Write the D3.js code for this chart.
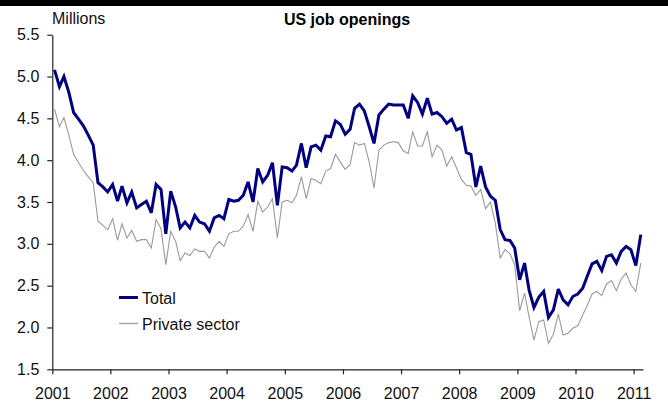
<!DOCTYPE html>
<html>
<head>
<meta charset="utf-8">
<script src="https://cdn.jsdelivr.net/npm/d3@7"></script>
<style>
  html, body { margin: 0; padding: 0; background: #fff; }
  svg { display: block; font-family: "Liberation Sans", Arial, sans-serif; }
</style>
</head>
<body>
<svg id="chart" width="668" height="406"></svg>
<script>
// Monthly job openings, millions, January 2001 – February 2011
const startYear = 2001;
const total = [
  5.08, 4.88, 5.00, 4.81, 4.57, 4.49, 4.41, 4.30, 4.18, 3.73, 3.68, 3.62,
  3.71, 3.51, 3.69, 3.49, 3.62, 3.43, 3.47, 3.51, 3.37, 3.71, 3.65, 3.12,
  3.63, 3.44, 3.19, 3.26, 3.19, 3.34, 3.26, 3.24, 3.15, 3.31, 3.34, 3.30,
  3.53, 3.51, 3.52, 3.58, 3.74, 3.50, 3.90, 3.74, 3.82, 3.97, 3.46, 3.92,
  3.91, 3.87, 3.94, 4.20, 3.91, 4.16, 4.18, 4.12, 4.29, 4.28, 4.47, 4.43,
  4.31, 4.37, 4.62, 4.67, 4.59, 4.40, 4.20, 4.54, 4.61, 4.67, 4.66, 4.66,
  4.66, 4.50, 4.77, 4.69, 4.55, 4.74, 4.55, 4.57, 4.52, 4.44, 4.49, 4.36,
  4.39, 4.09, 4.07, 3.68, 3.93, 3.68, 3.57, 3.52, 3.17, 3.05, 3.04, 2.95,
  2.57, 2.77, 2.45, 2.24, 2.36, 2.43, 2.12, 2.21, 2.46, 2.33, 2.27, 2.37,
  2.40, 2.47, 2.61, 2.76, 2.79, 2.68, 2.85, 2.87, 2.77, 2.91, 2.97, 2.93,
  2.74, 3.11
];
const privateSector = [
  4.61, 4.40, 4.51, 4.30, 4.07, 3.97, 3.88, 3.80, 3.73, 3.27, 3.22, 3.17,
  3.30, 3.04, 3.24, 3.07, 3.16, 3.03, 3.05, 3.05, 2.95, 3.29, 3.18, 2.75,
  3.15, 3.03, 2.80, 2.89, 2.86, 2.94, 2.91, 2.91, 2.83, 2.96, 3.03, 2.97,
  3.12, 3.15, 3.15, 3.21, 3.35, 3.15, 3.51, 3.38, 3.44, 3.54, 3.07, 3.50,
  3.52, 3.49, 3.58, 3.80, 3.54, 3.78, 3.76, 3.72, 3.87, 3.90, 4.07, 3.98,
  3.89, 3.95, 4.21, 4.18, 4.20, 3.98, 3.67, 4.12, 4.18, 4.21, 4.22, 4.21,
  4.11, 4.08, 4.34, 4.17, 4.17, 4.34, 4.04, 4.18, 4.12, 3.93, 4.04, 3.91,
  3.77, 3.70, 3.69, 3.58, 3.65, 3.42, 3.50, 3.25, 2.83, 2.93, 2.88, 2.75,
  2.20, 2.41, 2.13, 1.85, 2.07, 2.09, 1.81, 1.92, 2.16, 1.91, 1.93, 1.99,
  2.02, 2.15, 2.26, 2.40, 2.43, 2.38, 2.52, 2.56, 2.44, 2.58, 2.65, 2.51,
  2.43, 2.77
];
const yearTicks = ["2001", "2002", "2003", "2004", "2005", "2006", "2007", "2008", "2009", "2010", "2011"];
const valueTicks = [1.5, 2.0, 2.5, 3.0, 3.5, 4.0, 4.5, 5.0, 5.5];
const seriesNames = ["Total", "Private sector"];

const svg = d3.select("#chart");
const W = 668;
const plotLeft = 52.3, plotRight = 643, plotTop = 34.7, plotBottom = 369.3;

// points sit in the middle of each month
const dateOf = i => new Date(startYear, i, 15);

const x = d3.scaleTime()
  .domain([new Date(startYear, 0, 1), new Date(2011, 2, 1)])
  .range([plotLeft, plotRight]);
const y = d3.scaleLinear()
  .domain([d3.min(valueTicks), d3.max(valueTicks)])
  .range([plotBottom, plotTop]);

// black band along the top edge
svg.append("rect").attr("x", 0).attr("y", 0).attr("width", W).attr("height", 6).attr("fill", "#000");

// axes
const xAxis = d3.axisBottom(x)
  .tickValues(yearTicks.map(t => new Date(+t, 0, 1)))
  .tickFormat((d, i) => yearTicks[i])
  .tickSize(5).tickSizeOuter(0).tickPadding(13);
const gx = svg.append("g").attr("transform", `translate(0,${plotBottom})`).call(xAxis);

const yAxis = d3.axisLeft(y)
  .tickValues(valueTicks)
  .tickFormat(d3.format(".1f"))
  .tickSize(5).tickSizeOuter(0).tickPadding(8);
const gy = svg.append("g").attr("transform", `translate(${plotLeft},0)`).call(yAxis);

[gx, gy].forEach(g => {
  g.selectAll("path.domain").attr("stroke", "#222").attr("stroke-width", 1.2);
  g.selectAll(".tick line").attr("stroke", "#222").attr("stroke-width", 1.2);
  g.selectAll(".tick text").attr("font-size", 16).attr("fill", "#111")
    .style("font-family", "'Liberation Sans', Arial, sans-serif");
});

// series
const line = d3.line()
  .x((d, i) => x(dateOf(i)))
  .y(d => y(d));

svg.append("path").datum(privateSector)
  .attr("fill", "none").attr("stroke", "#9a9a9a").attr("stroke-width", 1.1)
  .attr("stroke-linejoin", "miter").attr("d", line);

svg.append("path").datum(total)
  .attr("fill", "none").attr("stroke", "#000080").attr("stroke-width", 3)
  .attr("stroke-linejoin", "miter").attr("stroke-miterlimit", 3).attr("d", line);

// titles
svg.append("text").attr("x", 52).attr("y", 24)
  .attr("font-size", 16).attr("fill", "#111").text("Millions");
svg.append("text").attr("x", 347).attr("y", 25)
  .attr("text-anchor", "middle").attr("font-size", 16).attr("font-weight", "bold")
  .attr("fill", "#000").text("US job openings");

// legend
const legend = [
  { name: seriesNames[0], color: "#000080", width: 3, y: 297.5 },
  { name: seriesNames[1], color: "#a8a8a8", width: 1.5, y: 323.5 }
];
const lg = svg.append("g");
legend.forEach(item => {
  lg.append("line").attr("x1", 119).attr("x2", 138)
    .attr("y1", item.y).attr("y2", item.y)
    .attr("stroke", item.color).attr("stroke-width", item.width);
  lg.append("text").attr("x", 142).attr("y", item.y + 6)
    .attr("font-size", 16).attr("fill", "#111").text(item.name);
});
</script>
</body>
</html>
